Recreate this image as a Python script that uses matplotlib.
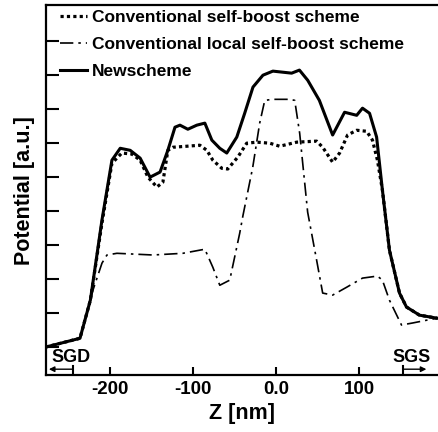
import numpy as np
import matplotlib
matplotlib.use("Agg")
import matplotlib.pyplot as plt

plt.rcParams["font.family"] = ["Liberation Sans", "DejaVu Sans"]
plt.rcParams["font.weight"] = "bold"
plt.rcParams["axes.unicode_minus"] = False

# Newscheme (solid)
z_new = [-278, -236.5, -224, -210, -198, -188, -176, -164, -152, -140, -130.6, -122, -116,
         -106.5, -95.7, -86, -77.6, -68, -59.6, -47.5, -38, -28, -16, -4, 18.6, 28, 38, 52,
         68, 82.4, 97, 104, 112.5, 121, 128, 136.5, 148.6, 157, 172.7, 194]
p_new = [0.0, 0.26, 1.38, 3.74, 5.5, 5.85, 5.79, 5.56, 5.0, 5.15, 5.79, 6.47, 6.53,
         6.41, 6.53, 6.59, 6.09, 5.85, 5.71, 6.18, 6.88, 7.65, 8.0, 8.12, 8.06, 8.15, 7.85, 7.26,
         6.24, 6.91, 6.82, 7.03, 6.88, 6.18, 4.62, 2.85, 1.59, 1.18, 0.94, 0.85]

# Conventional self-boost scheme (dotted)
z_conv = [-278, -236.5, -224, -210, -198, -186, -174, -164, -154.6, -143.8, -136.6, -130.6,
          -124.5, -107.7, -92, -83.6, -76.4, -65.6, -58.4, -46.3, -35.5, -23.5, -7.8, 4.2,
          24.7, 48.7, 56, 68, 76.4, 86, 97, 109, 116, 122, 128, 136.5, 148.6, 157, 172.7, 194]
p_conv = [0.0, 0.26, 1.38, 3.65, 5.41, 5.71, 5.68, 5.5, 5.0, 4.71, 4.85, 5.79,
          5.88, 5.91, 5.94, 5.79, 5.5, 5.26, 5.24, 5.59, 6.0, 6.03, 6.0, 5.91,
          6.03, 6.06, 5.88, 5.44, 5.71, 6.24, 6.38, 6.35, 6.09, 5.5, 4.62, 2.85, 1.59, 1.18, 0.94, 0.85]

# Conventional local self-boost scheme (dash-dot)
z_local = [-278, -236.5, -224, -220.8, -210, -204, -192, -148.6, -112.5, -86, -76.4, -68, -56,
           -44, -40, -28.3, -19.9, -13.8, -4.2, 16.2, 22.3, 28.3, 37.9, 48.7, 56, 68, 84.8,
           104, 122, 128, 136.5, 151, 164.5, 181, 194]
p_local = [0.0, 0.26, 1.38, 1.68, 2.47, 2.71, 2.76, 2.71, 2.76, 2.88, 2.35, 1.82, 1.97,
           3.35, 3.88, 5.29, 6.59, 7.26, 7.29, 7.29, 7.26, 6.29, 3.97, 2.56, 1.59, 1.53, 1.76,
           2.03, 2.09, 1.97, 1.38, 0.65, 0.71, 0.79, 0.85]

xticks = [-200, -100, 0, 100]
xticklabels = ["-200", "-100", "0.0", "100"]

fig = plt.figure(figsize=(4.38, 4.32), dpi=100)
ax = fig.add_axes([0.104, 0.132, 0.896, 0.856])

ax.plot(z_conv, p_conv, color="black", lw=2.3, linestyle=(0, (1, 1)),
        label="Conventional self-boost scheme")
ax.plot(z_local, p_local, color="black", lw=1.2, linestyle=(0, (8, 3, 1.5, 3)),
        label="Conventional local self-boost scheme")
ax.plot(z_new, p_new, color="black", lw=2.2, label="Newscheme")

ax.set_xlim(-278, 195)
ax.set_ylim(-0.82, 10.06)
ax.set_xticks(xticks)
ax.set_xticklabels(xticklabels, fontsize=13.5, fontweight="bold")
ax.set_yticks(range(0, 10))
ax.set_yticklabels([])
ax.tick_params(axis="x", direction="in", length=6, width=1.5, pad=4)
ax.tick_params(axis="y", direction="in", length=9.5, width=1.5)
for s in ["left", "bottom", "top"]:
    ax.spines[s].set_linewidth(1.6)
ax.spines["right"].set_visible(False)

ax.set_xlabel("Z [nm]", fontsize=15.5, fontweight="bold", labelpad=4)
ax.set_ylabel("Potential [a.u.]", fontsize=15.5, fontweight="bold", labelpad=4)

# SGD / SGS marks
ax.plot([-245, -245], [-0.82, -0.56], color="black", lw=1.5)
ax.plot([153.4, 153.4], [-0.82, -0.56], color="black", lw=1.5)
ax.annotate("", xy=(-274, -0.65), xytext=(-245, -0.65),
            arrowprops=dict(arrowstyle="-|>", color="black", lw=1.0, mutation_scale=8,
                            shrinkA=0, shrinkB=0))
ax.annotate("", xy=(181, -0.65), xytext=(153.4, -0.65),
            arrowprops=dict(arrowstyle="-|>", color="black", lw=1.0, mutation_scale=8,
                            shrinkA=0, shrinkB=0))
ax.text(-247, -0.3, "SGD", fontsize=13, fontweight="bold", ha="center", va="center")
ax.text(163, -0.3, "SGS", fontsize=13, fontweight="bold", ha="center", va="center")

ax.legend(loc="upper left", frameon=False, handlelength=1.55,
          handletextpad=0.3, labelspacing=0.68, borderaxespad=0.15,
          bbox_to_anchor=(0.013, 1.012), prop={"weight": "bold", "size": 12.5})

fig.savefig("out.png", dpi=100)
